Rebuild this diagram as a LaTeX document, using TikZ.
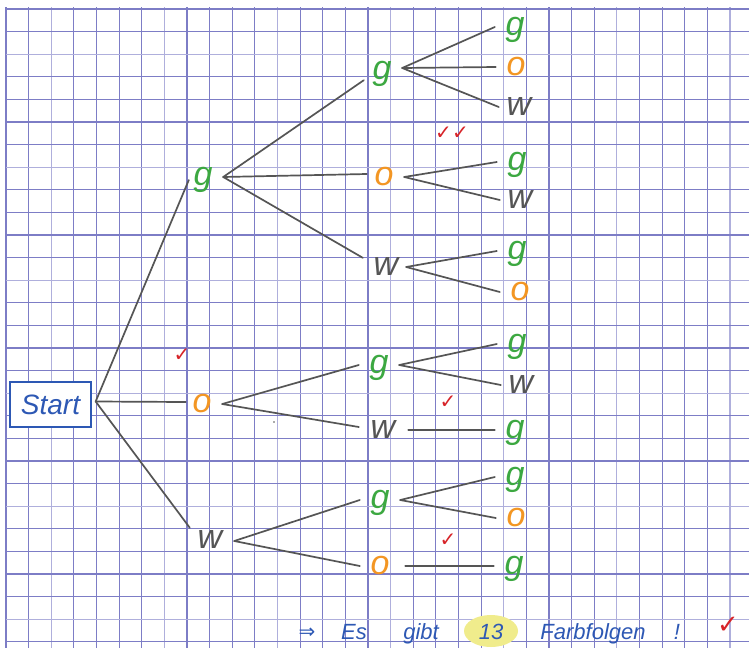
\documentclass[tikz,border=0pt]{standalone}
\usepackage{fontspec}
\newfontfamily\symfont{DejaVu Sans}
\newfontfamily\handfont{Liberation Sans}
\usetikzlibrary{calc}
\definecolor{gridc}{RGB}{125,125,198}
\definecolor{gridl}{RGB}{175,175,220}
\definecolor{lgreen}{RGB}{60,168,65}
\definecolor{lorange}{RGB}{243,150,35}
\definecolor{lgray}{RGB}{85,85,85}
\definecolor{lblue}{RGB}{45,88,180}
\definecolor{lred}{RGB}{215,35,40}
\definecolor{hl}{RGB}{240,236,140}
\begin{document}
\begin{tikzpicture}[x=1pt,y=-1pt,
  letter/.style={inner sep=0pt, minimum width=40pt, minimum height=24pt,
    text height=17pt, text depth=0pt, font=\handfont\fontsize{34}{34}\selectfont\itshape},
  lg/.style={letter, text=lgreen},
  lo/.style={letter, text=lorange},
  lw/.style={letter, text=lgray},
  conn/.style={draw=lgray, line width=1.7pt, line cap=round},
  chk/.style={inner sep=0pt, text=lred, font=\symfont\bfseries\fontsize{20}{20}\selectfont},
  btxt/.style={inner sep=0pt, anchor=base, text=lblue, font=\handfont\fontsize{22}{22}\selectfont\itshape}
]
\useasboundingbox (0,0) rectangle (749,648);
\fill[white] (0,0) rectangle (749,648);
% grid
\foreach \i in {0,...,32}{
  \pgfmathtruncatemacro\m{mod(\i,5)}
  \ifnum\m=2 \def\gc{gridl}\else\def\gc{gridc}\fi
  \draw[\gc, line width=1.2pt] ({6+22.625*\i},7) -- ({6+22.625*\i},648);
}
\foreach \j in {0,...,28}{
  \pgfmathtruncatemacro\m{mod(\j,5)}
  \ifnum\m=2 \def\gc{gridl}\else\def\gc{gridc}\fi
  \draw[\gc, line width=1.2pt] (6,{9+22.6*\j}) -- (749,{9+22.6*\j});
}
% start
\node[draw=lblue, line width=1.3pt, fill=white, minimum width=81pt, minimum height=45pt, inner sep=0pt,
  text=lblue, font=\handfont\fontsize{28}{28}\selectfont\itshape] (start) at (50.5,404.5) {Start};
% level 1
\node[lg] (g1) at (203,177) {g};
\node[lo] (o1) at (202,404) {o};
\node[lw] (w1) at (210,540) {w};
% level 2
\node[lg] (g2) at (382,71) {g};
\node[lo] (o2) at (384,177) {o};
\node[lw] (w2) at (386,267) {w};
\node[lg] (g4) at (379,365) {g};
\node[lw] (w4) at (383,430) {w};
\node[lg] (g6) at (380,500) {g};
\node[lo] (o6) at (380,566) {o};
% level 3
\node[lg] (g3a) at (515,27) {g};
\node[lo] (o3a) at (516,67) {o};
\node[lw] (w3a) at (519,107) {w};
\node[lg] (g3b) at (517,162) {g};
\node[lw] (w3b) at (520,200) {w};
\node[lg] (g3c) at (517,251) {g};
\node[lo] (o3c) at (520,292) {o};
\node[lg] (g5a) at (517,344) {g};
\node[lw] (w5a) at (521,385) {w};
\node[lg] (g5b) at (515,430) {g};
\node[lg] (g7a) at (515,477) {g};
\node[lo] (o7a) at (516,518) {o};
\node[lg] (g7b) at (514,566) {g};
% connectors
\coordinate (s0) at ($(start.east)+(4,-3)$);
\draw[conn] (s0) -- ($(g1.west)+(6,3)$);
\draw[conn] (s0) -- ($(o1.west)+(4,-2)$);
\draw[conn] (s0) -- (w1.north west);
\draw[conn] (g1.east) -- ($(g2.south west)+(2,-3)$);
\draw[conn] (g1.east) -- ($(o2.west)+(3,-3)$);
\draw[conn] (g1.east) -- ($(w2.north west)+(-3,3)$);
\draw[conn] (o1.east) -- (g4.west);
\draw[conn] (o1.east) -- ($(w4.west)+(-4,-3)$);
\draw[conn] ($(w1.east)+(4,1)$) -- (g6.west);
\draw[conn] ($(w1.east)+(4,1)$) -- (o6.west);
\draw[conn] ($(g2.east)+(0,-3)$) -- (g3a.west);
\draw[conn] ($(g2.east)+(0,-3)$) -- (o3a.west);
\draw[conn] ($(g2.east)+(0,-3)$) -- (w3a.west);
\draw[conn] (o2.east) -- (g3b.west);
\draw[conn] (o2.east) -- (w3b.west);
\draw[conn] (w2.east) -- (g3c.west);
\draw[conn] (w2.east) -- (o3c.west);
\draw[conn] (g4.east) -- (g5a.west);
\draw[conn] (g4.east) -- (w5a.west);
\draw[conn] ($(w4.east)+(5,0)$) -- (g5b.west);
\draw[conn] (g6.east) -- (g7a.west);
\draw[conn] (g6.east) -- (o7a.west);
\draw[conn] ($(o6.east)+(5,0)$) -- (g7b.west);
\fill[lgray] (274,422) circle (0.9pt);
% checks
\node[chk] (c1) at (182,355) {✓};
\node[chk] (c2) at (452,133) {✓✓};
\node[chk] (c3) at (448,402) {✓};
\node[chk] (c4) at (448,540) {✓};
\node[chk, font=\symfont\bfseries\fontsize{26}{26}\selectfont] (c5) at (728,625) {✓};
% bottom line
\fill[hl] (491,631) ellipse [x radius=27pt, y radius=16pt];
\node[btxt, font=\symfont\fontsize{20}{20}\selectfont] (t1) at (307,638) {⇒};
\node[btxt] (t2) at (354,639) {Es};
\node[btxt] (t3) at (421,639) {gibt};
\node[btxt] (t4) at (491,639) {13};
\node[btxt] (t5) at (593,639) {Farbfolgen};
\node[btxt] (t6) at (677,639) {!};
\end{tikzpicture}
\end{document}
